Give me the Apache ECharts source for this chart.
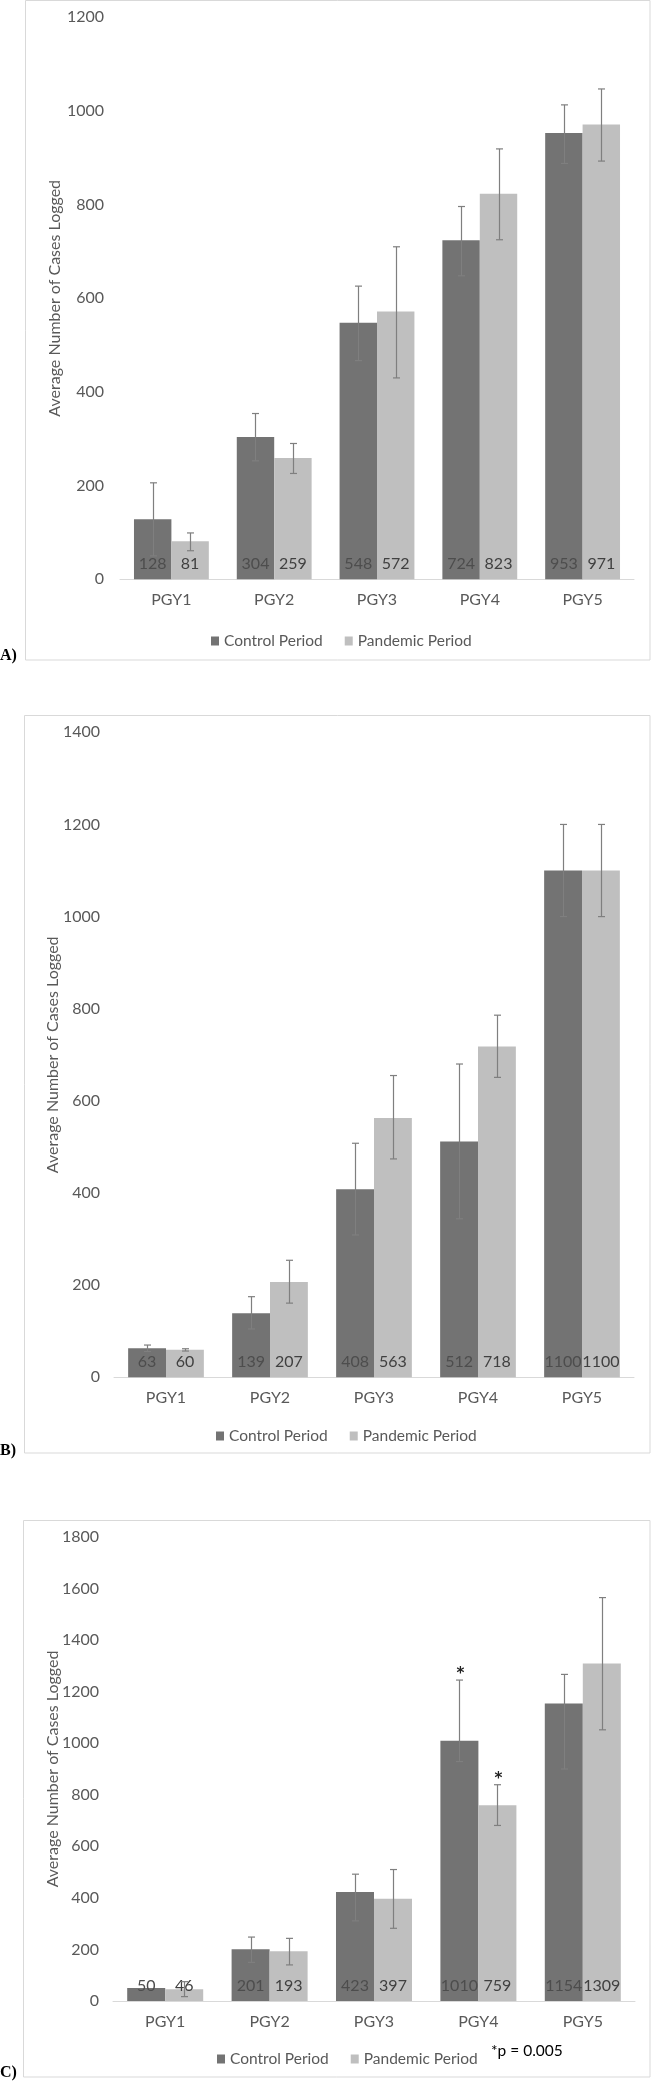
<!DOCTYPE html>
<html>
<head>
<meta charset="utf-8">
<script src="https://cdn.jsdelivr.net/npm/echarts@6/dist/echarts.min.js"></script>
<style>
  html, body { margin: 0; padding: 0; background: #fff; }
  #chart { width: 651px; height: 2082px; }
</style>
</head>
<body>
<div id="chart"></div>
<script>
// ---------- data ----------
const categories = ['PGY1', 'PGY2', 'PGY3', 'PGY4', 'PGY5'];
const seriesNames = ['Control Period', 'Pandemic Period'];

// Panel A
const controlA = [128, 304, 548, 724, 953];
const pandemicA = [81, 259, 572, 823, 971];
const controlA_low = [50, 253, 467, 648, 888];
const controlA_high = [206, 354, 626, 796, 1013];
const pandemicA_low = [61, 226, 430, 725, 893];
const pandemicA_high = [99, 290, 710, 919, 1047];
const yTicksA = [0, 200, 400, 600, 800, 1000, 1200];

// Panel B
const controlB = [63, 139, 408, 512, 1100];
const pandemicB = [60, 207, 563, 718, 1100];
const controlB_low = [56, 105, 309, 344, 1000];
const controlB_high = [70, 175, 508, 680, 1200];
const pandemicB_low = [57, 161, 474, 651, 1000];
const pandemicB_high = [62, 254, 655, 786, 1200];
const yTicksB = [0, 200, 400, 600, 800, 1000, 1200, 1400];

// Panel C
const controlC = [50, 201, 423, 1010, 1154];
const pandemicC = [46, 193, 397, 759, 1309];
const controlC_low = [null, 150, 311, 929, 900];
const controlC_high = [null, 248, 492, 1245, 1267];
const pandemicC_low = [17, 140, 282, 681, 1052];
const pandemicC_high = [75, 243, 510, 839, 1565];
const controlC_sig = [0, 0, 0, 1, 0];
const pandemicC_sig = [0, 0, 0, 1, 0];
const yTicksC = [0, 200, 400, 600, 800, 1000, 1200, 1400, 1600, 1800];

const panelLabels = ['A)', 'B)', 'C)'];
const axisTitle = 'Average Number of Cases Logged';
const footnote = '*p = 0.005';

// ---------- styling ----------
const FONT = 'Lato, "Open Sans", sans-serif';
const FS = 16;
const LFS = 15.5;
const DARK = '#737373';
const LIGHT = '#bfbfbf';
const TXT = '#595959';
const BAR_FRAC = 0.364;

const panels = [
  { ctrl: controlA, pand: pandemicA, cl: controlA_low, ch: controlA_high, pl: pandemicA_low, ph: pandemicA_high,
    cs: [0,0,0,0,0], ps: [0,0,0,0,0], ticks: yTicksA,
    grid: { left: 120, top: 17.3, width: 514, height: 562 }, labelMargin: 16, nameGap: 57,
    frame: { x: 25.5, y: 0.5, w: 624.5, h: 659.5 }, legendLeft: 206, legendTop: 627, labelY: 657 },
  { ctrl: controlB, pand: pandemicB, cl: controlB_low, ch: controlB_high, pl: pandemicB_low, ph: pandemicB_high,
    cs: [0,0,0,0,0], ps: [0,0,0,0,0], ticks: yTicksB,
    grid: { left: 114, top: 732.3, width: 520, height: 645 }, labelMargin: 14, nameGap: 53,
    frame: { x: 24.5, y: 715.5, w: 625.5, h: 737.5 }, legendLeft: 211, legendTop: 1422, labelY: 1451.5 },
  { ctrl: controlC, pand: pandemicC, cl: controlC_low, ch: controlC_high, pl: pandemicC_low, ph: pandemicC_high,
    cs: controlC_sig, ps: pandemicC_sig, ticks: yTicksC,
    grid: { left: 113, top: 1537, width: 522, height: 464 }, labelMargin: 14, nameGap: 52,
    frame: { x: 23.5, y: 1520.5, w: 626.5, h: 556.5 }, legendLeft: 212, legendTop: 2045, labelY: 2074 }
];

function errRender(params, api) {
  const lo = api.value(1), hi = api.value(2);
  if (lo == null || hi == null || isNaN(lo) || isNaN(hi)) return;
  const idx = api.value(0), side = api.value(3), sig = api.value(4);
  const catW = api.size([1, 0])[0];
  const off = side * catW * BAR_FRAC / 2;
  const pLo = api.coord([idx, lo]);
  const pHi = api.coord([idx, hi]);
  const cx = Math.round(pLo[0] + off) + 0.5;
  const cap = 3.5;
  const st = { stroke: '#7f7f7f', lineWidth: 1.2 };
  const children = [
    { type: 'line', shape: { x1: cx, y1: pLo[1], x2: cx, y2: pHi[1] }, style: st },
    { type: 'line', shape: { x1: cx - cap, y1: pHi[1], x2: cx + cap, y2: pHi[1] }, style: st },
    { type: 'line', shape: { x1: cx - cap, y1: pLo[1], x2: cx + cap, y2: pLo[1] }, style: st }
  ];
  if (sig) {
    children.push({ type: 'text', style: { text: '*', x: cx + 1, y: pHi[1] - 6, align: 'center',
      verticalAlign: 'middle', fill: '#222', font: 'bold 15px "DejaVu Sans", sans-serif' } });
  }
  return { type: 'group', children: children };
}

const option = {
  animation: false,
  backgroundColor: '#fff',
  grid: [], xAxis: [], yAxis: [], series: [], legend: [],
  graphic: []
};

panels.forEach((p, i) => {
  option.grid.push(Object.assign({ containLabel: false }, p.grid));
  option.xAxis.push({
    type: 'category', gridIndex: i, data: categories,
    axisLine: { lineStyle: { color: '#d9d9d9', width: 1 } },
    axisTick: { show: false },
    axisLabel: { color: TXT, fontSize: FS, fontFamily: FONT, margin: 13 }
  });
  option.yAxis.push({
    type: 'value', gridIndex: i, min: 0, max: p.ticks[p.ticks.length - 1], interval: p.ticks[1] - p.ticks[0],
    splitLine: { show: false }, axisLine: { show: false }, axisTick: { show: false },
    axisLabel: { color: TXT, fontSize: FS, fontFamily: FONT, margin: p.labelMargin,
      formatter: function (v) { return String(v); } },
    name: axisTitle, nameLocation: 'middle', nameGap: p.nameGap, nameMoveOverlap: false,
    nameTextStyle: { color: TXT, fontSize: FS, fontFamily: FONT }
  });
  const labelBase = { show: true, position: 'insideBottom', distance: 6, fontSize: FS, fontFamily: FONT, lineHeight: 18 };
  option.series.push({
    type: 'bar', name: seriesNames[0], xAxisIndex: i, yAxisIndex: i, data: p.ctrl,
    barWidth: (BAR_FRAC * 100) + '%', barGap: '0%', itemStyle: { color: DARK },
    label: Object.assign({ color: '#4d4d4d' }, labelBase), z: 2
  });
  option.series.push({
    type: 'bar', name: seriesNames[1], xAxisIndex: i, yAxisIndex: i, data: p.pand,
    barWidth: (BAR_FRAC * 100) + '%', barGap: '0%', itemStyle: { color: LIGHT },
    label: Object.assign({ color: '#404040' }, labelBase), z: 2
  });
  const errData = [];
  categories.forEach((c, k) => {
    errData.push([k, p.cl[k], p.ch[k], -1, p.cs[k]]);
    errData.push([k, p.pl[k], p.ph[k], 1, p.ps[k]]);
  });
  option.series.push({
    type: 'custom', name: 'err' + i, xAxisIndex: i, yAxisIndex: i, data: errData,
    renderItem: errRender, encode: { x: 0, y: [1, 2] }, z: 5, silent: true
  });
  option.legend.push({
    data: seriesNames, left: p.legendLeft, top: p.legendTop, orient: 'horizontal',
    icon: 'rect', itemWidth: 8, itemHeight: 9, itemGap: 22,
    textStyle: { color: TXT, fontSize: LFS, fontFamily: FONT, lineHeight: 18 },
    selectedMode: false
  });
  option.graphic.push({
    type: 'rect', shape: { x: p.frame.x, y: p.frame.y, width: p.frame.w, height: p.frame.h },
    style: { fill: 'none', stroke: '#d9d9d9', lineWidth: 1 }, z: -10, silent: true
  });
  option.graphic.push({
    type: 'text', left: 0, top: p.labelY - 9,
    style: { text: panelLabels[i], fill: '#000', font: 'bold 16px "Liberation Serif", "Times New Roman", serif' }
  });
});

option.graphic.push({
  type: 'text', left: 491, top: 2043,
  style: { text: footnote, fill: '#000', font: LFS + 'px ' + FONT }
});

const chart = echarts.init(document.getElementById('chart'), null, { renderer: 'canvas' });
chart.setOption(option);
</script>
</body>
</html>
